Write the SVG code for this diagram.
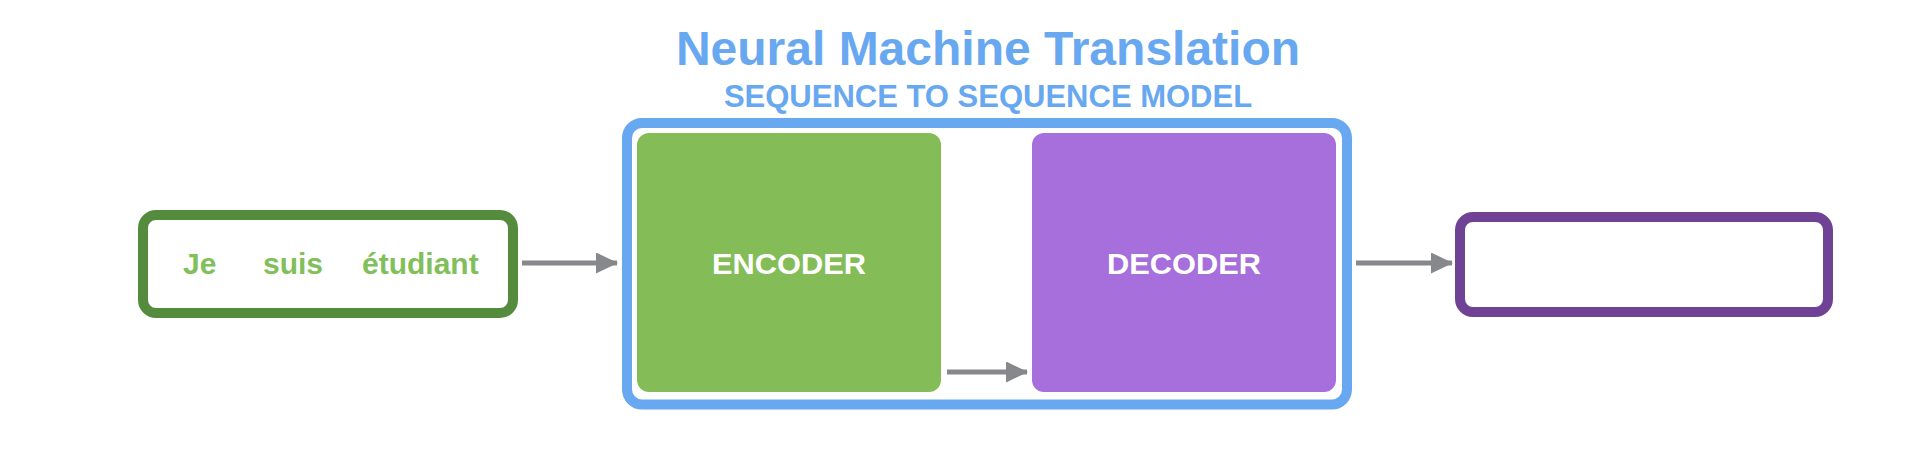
<svg xmlns="http://www.w3.org/2000/svg" width="1926" height="460" viewBox="0 0 1926 460">
  <style>
    .title { font-family: "Liberation Sans", Arial, sans-serif; font-weight: bold; fill: #68a8f0; text-anchor: middle; }
    .word { font-family: "Liberation Sans", Arial, sans-serif; font-weight: bold; font-size: 30px; fill: #80bf5a; }
    .lbl { font-family: "Liberation Sans", Arial, sans-serif; font-weight: bold; font-size: 29px; fill: #ffffff; text-anchor: middle; }
    .conn { stroke: #87888b; stroke-width: 5; fill: none; }
  </style>
  <defs>
    <marker id="arrow" markerUnits="userSpaceOnUse" markerWidth="22" markerHeight="22" refX="21" refY="10.5" orient="auto">
      <path d="M0,0 L22,10.5 L0,21 Z" fill="#87888b"/>
    </marker>
  </defs>
  <rect width="1926" height="460" fill="#ffffff"/>

  <g id="title">
    <text class="title" x="988" y="65" font-size="48">Neural Machine Translation</text>
    <text class="title" x="988" y="107" font-size="31">SEQUENCE TO SEQUENCE MODEL</text>
  </g>

  <g id="input">
    <rect x="143" y="215" width="370" height="98" rx="13" fill="#ffffff" stroke="#558b3c" stroke-width="10"/>
    <text class="word" x="183" y="274">Je</text>
    <text class="word" x="263" y="274">suis</text>
    <text class="word" x="362" y="274">étudiant</text>
  </g>

  <g id="seq2seq">
    <rect x="627" y="123" width="720" height="281.5" rx="15" fill="#ffffff" stroke="#68a8f0" stroke-width="10"/>
  </g>

  <g id="encoder">
    <rect x="637" y="133" width="304" height="259" rx="12" fill="#84bd58"/>
    <text class="lbl" x="789" y="274" textLength="154" lengthAdjust="spacingAndGlyphs">ENCODER</text>
  </g>

  <g id="decoder">
    <rect x="1032" y="133" width="304" height="259" rx="12" fill="#a66fdb"/>
    <text class="lbl" x="1184" y="274" textLength="154" lengthAdjust="spacingAndGlyphs">DECODER</text>
  </g>

  <g id="output">
    <rect x="1460" y="217" width="368" height="95" rx="13" fill="#ffffff" stroke="#6f4295" stroke-width="10"/>
  </g>

  <g id="connectors">
    <line class="conn" x1="522" y1="263" x2="617" y2="263" marker-end="url(#arrow)"/>
    <line class="conn" x1="947" y1="372" x2="1027" y2="372" marker-end="url(#arrow)"/>
    <line class="conn" x1="1356" y1="263" x2="1452" y2="263" marker-end="url(#arrow)"/>
  </g>
</svg>
